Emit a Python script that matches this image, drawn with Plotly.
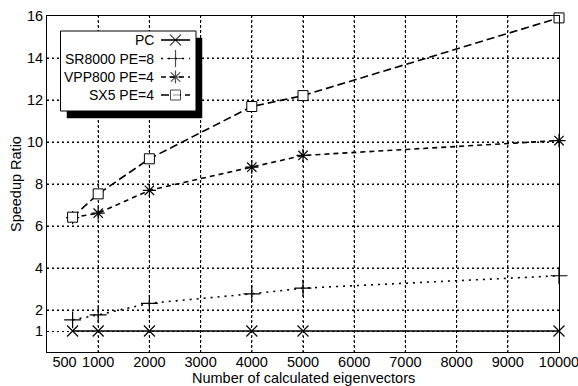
import plotly.graph_objects as go

# ---- data ----
x_pc = [500, 1000, 2000, 4000, 5000, 10000]
y_pc = [1, 1, 1, 1, 1, 1]

x_sr = [500, 1000, 2000, 4000, 5000, 10000]
y_sr = [1.53, 1.77, 2.32, 2.77, 3.04, 3.63]

x_vpp = [500, 1000, 2000, 4000, 5000, 10000]
y_vpp = [6.4, 6.61, 7.70, 8.80, 9.36, 10.07]

x_sx5 = [500, 1000, 2000, 4000, 5000, 10000]
y_sx5 = [6.42, 7.53, 9.20, 11.69, 12.21, 15.91]

x_ticks = [500, 1000, 2000, 3000, 4000, 5000, 6000, 7000, 8000, 9000, 10000]
x_tick_labels = ["500\u00a0\u00a0\u00a0\u00a0", "1000", "2000", "3000", "4000", "5000",
                 "6000", "7000", "8000", "9000", "10000"]
y_ticks = [1, 2, 4, 6, 8, 10, 12, 14, 16]
y_tick_labels = ["1", "2", "4", "6", "8", "10", "12", "14", "16"]
x_grid = [1000, 2000, 3000, 4000, 5000, 6000, 7000, 8000, 9000]
y_grid = [2, 4, 6, 8, 10, 12, 14]
x_range = [0, 10000]
y_range = [0, 16]

names = ["PC", "SR8000 PE=8", "VPP800 PE=4", "SX5 PE=4"]

# ---- layout geometry ----
W, H = 578, 386
ML, MR, MT, MB = 47, 19, 16, 34
PW, PH = W - ML - MR, H - MT - MB


def px_x(p):
    return (p - ML) / PW


def px_y(p):
    return (H - MB - p) / PH


FONT = "Liberation Sans, Arial, Helvetica, sans-serif"
FS = 14.5
GRIDDASH = "2px,3px"

styles = [
    dict(line=dict(color="black", width=1.6, dash="solid"),
         marker=dict(symbol="x-thin-open", size=11, color="black", line=dict(width=1.2, color="black"))),
    dict(line=dict(color="black", width=1.6, dash="2px,5px"),
         marker=dict(symbol="cross-thin-open", size=12, color="black", line=dict(width=1.2, color="black"))),
    dict(line=dict(color="black", width=1.6, dash="5px,4px"),
         marker=dict(symbol="asterisk-open", size=11, color="black", line=dict(width=1.2, color="black"))),
    dict(line=dict(color="black", width=1.6, dash="8px,4px"),
         marker=dict(symbol="square", size=10, color="white", line=dict(width=1, color="black"))),
]

series = [(x_pc, y_pc), (x_sr, y_sr), (x_vpp, y_vpp), (x_sx5, y_sx5)]

fig = go.Figure()

# ---- dotted grid, built from the grid lists ----
gxs, gys = [], []
for gx in x_grid:
    gxs += [gx, gx, None]
    gys += [y_range[0], y_range[1], None]
for gy in y_grid:
    gxs += [x_range[0], x_range[1], None]
    gys += [gy, gy, None]
fig.add_trace(go.Scatter(x=gxs, y=gys, mode="lines", connectgaps=False,
                         line=dict(color="black", width=1.2, dash=GRIDDASH, simplify=False),
                         showlegend=False, hoverinfo="skip"))

for (xs, ys), st, nm in zip(series, styles, names):
    fig.add_trace(go.Scatter(x=xs, y=ys, mode="lines+markers", name=nm,
                             line=st["line"], marker=st["marker"],
                             showlegend=False, cliponaxis=False))


# ---- custom legend on hidden overlay axes (paper-fraction units) ----
def rect_xy(l, t, r, b):
    return ([px_x(l), px_x(r), px_x(r), px_x(l), px_x(l)],
            [px_y(t), px_y(t), px_y(b), px_y(b), px_y(t)])


shx, shy = rect_xy(67, 38, 202, 118)
fig.add_trace(go.Scatter(x=shx, y=shy, xaxis="x2", yaxis="y2", mode="lines", fill="toself",
                         fillcolor="black", line=dict(color="black", width=0.5),
                         showlegend=False, hoverinfo="skip", cliponaxis=False))
bxx, bxy = rect_xy(60.5, 31, 196, 111)
fig.add_trace(go.Scatter(x=bxx, y=bxy, xaxis="x2", yaxis="y2", mode="lines", fill="toself",
                         fillcolor="white", line=dict(color="black", width=1),
                         showlegend=False, hoverinfo="skip", cliponaxis=False))

row_y = [40, 58.5, 77, 95]
sx0, sx1, sxc = 161, 190, 175.5
for ry, st in zip(row_y, styles):
    mk = st["marker"]
    fig.add_trace(go.Scatter(
        x=[px_x(sx0), px_x(sxc), px_x(sx1)], y=[px_y(ry)] * 3,
        xaxis="x2", yaxis="y2", mode="lines+markers",
        line=st["line"],
        marker=dict(symbol=mk["symbol"], size=[0, mk["size"], 0], color=mk["color"], line=mk["line"]),
        showlegend=False, cliponaxis=False, hoverinfo="skip"))

annotations = []
for ry, nm in zip(row_y, names):
    annotations.append(dict(xref="paper", yref="paper", x=px_x(156), y=px_y(ry),
                            xanchor="right", yanchor="middle", text=nm, showarrow=False,
                            font=dict(family=FONT, size=14, color="black")))
annotations.append(dict(xref="paper", yref="paper", x=0.5, y=px_y(377.5),
                        xanchor="center", yanchor="middle", text="Number of calculated eigenvectors",
                        showarrow=False, font=dict(family=FONT, size=FS, color="black")))
annotations.append(dict(xref="paper", yref="paper", x=px_x(16), y=0.5, textangle=-90,
                        xanchor="center", yanchor="middle", text="Speedup Ratio",
                        showarrow=False, font=dict(family=FONT, size=FS, color="black")))

fig.update_layout(
    width=W, height=H,
    margin=dict(l=ML, r=MR, t=MT, b=MB, autoexpand=False),
    paper_bgcolor="white", plot_bgcolor="white",
    font=dict(family=FONT, size=FS, color="black"),
    annotations=annotations,
    xaxis=dict(range=x_range, tickvals=x_ticks, ticktext=x_tick_labels,
               showgrid=False, zeroline=False, showline=True, mirror=True, tickangle=0,
               automargin=False, linecolor="black", linewidth=1,
               ticks="inside", ticklen=1, tickcolor="rgba(0,0,0,0)",
               minor=dict(tickmode="array", tickvals=x_grid, showgrid=True, gridcolor="black",
                          griddash=GRIDDASH, gridwidth=1, ticks="outside", ticklen=1,
                          tickcolor="rgba(0,0,0,0)"),
               ticklabeloverflow="allow", ticklabelstandoff=-3,
               tickfont=dict(size=FS), fixedrange=True),
    yaxis=dict(range=y_range, tickvals=y_ticks, ticktext=y_tick_labels,
               showgrid=True, gridcolor="black", griddash=GRIDDASH, gridwidth=1,
               zeroline=False, showline=True, mirror=True,
               automargin=False, linecolor="black", linewidth=1, ticks="",
               tickfont=dict(size=FS), fixedrange=True),
    xaxis2=dict(overlaying="x", range=[0, 1], visible=False, anchor="y2", fixedrange=True),
    yaxis2=dict(overlaying="y", range=[0, 1], visible=False, anchor="x2", fixedrange=True),
)

fig.write_html("out.html", config={"displayModeBar": False},
               post_script="document.body.style.margin='0';document.body.style.overflow='hidden';")
